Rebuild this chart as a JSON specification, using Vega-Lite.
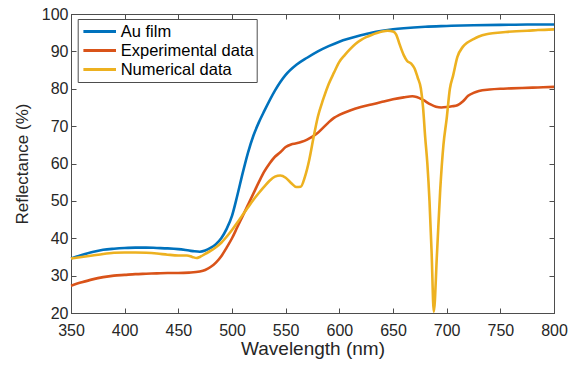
{
  "$schema": "https://vega.github.io/schema/vega-lite/v6.json",
  "width": 483,
  "height": 299,
  "autosize": {"type": "none"},
  "padding": {"left": 71, "top": 14, "right": 15, "bottom": 54},
  "config": {
    "font": "Liberation Sans",
    "view": {"stroke": "#4d4d4d", "strokeWidth": 1},
    "axis": {"grid": false, "domainColor": "#4d4d4d", "tickColor": "#4d4d4d", "labelColor": "#262626", "titleColor": "#262626", "labelFontSize": 16, "titleFontWeight": "normal", "tickSize": -5, "labelFlush": false, "labelOverlap": false}
  },
  "data": {"values": [
    {"s":"Au film","x":350,"y":34.6},{"s":"Au film","x":360,"y":35.5},{"s":"Au film","x":370,"y":36.3},{"s":"Au film","x":380,"y":36.9},{"s":"Au film","x":390,"y":37.2},{"s":"Au film","x":400,"y":37.4},{"s":"Au film","x":410,"y":37.5},{"s":"Au film","x":420,"y":37.5},{"s":"Au film","x":430,"y":37.4},{"s":"Au film","x":440,"y":37.3},{"s":"Au film","x":450,"y":37.1},{"s":"Au film","x":460,"y":36.7},{"s":"Au film","x":465,"y":36.5},{"s":"Au film","x":470,"y":36.4},{"s":"Au film","x":475,"y":36.7},{"s":"Au film","x":480,"y":37.4},{"s":"Au film","x":485,"y":38.4},{"s":"Au film","x":490,"y":40},{"s":"Au film","x":495,"y":42.5},{"s":"Au film","x":500,"y":46},{"s":"Au film","x":505,"y":51.5},{"s":"Au film","x":510,"y":57.5},{"s":"Au film","x":515,"y":63},{"s":"Au film","x":520,"y":67.5},{"s":"Au film","x":525,"y":71},{"s":"Au film","x":530,"y":74},{"s":"Au film","x":540,"y":79.5},{"s":"Au film","x":550,"y":83.7},{"s":"Au film","x":560,"y":86.4},{"s":"Au film","x":570,"y":88.3},{"s":"Au film","x":580,"y":90},{"s":"Au film","x":590,"y":91.4},{"s":"Au film","x":600,"y":92.6},{"s":"Au film","x":610,"y":93.5},{"s":"Au film","x":620,"y":94.3},{"s":"Au film","x":630,"y":95},{"s":"Au film","x":640,"y":95.5},{"s":"Au film","x":650,"y":95.9},{"s":"Au film","x":660,"y":96.2},{"s":"Au film","x":680,"y":96.6},{"s":"Au film","x":700,"y":96.8},{"s":"Au film","x":725,"y":97},{"s":"Au film","x":750,"y":97.1},{"s":"Au film","x":775,"y":97.2},{"s":"Au film","x":800,"y":97.2},
    {"s":"Experimental data","x":350,"y":27.3},{"s":"Experimental data","x":360,"y":28.2},{"s":"Experimental data","x":370,"y":29},{"s":"Experimental data","x":380,"y":29.6},{"s":"Experimental data","x":390,"y":30},{"s":"Experimental data","x":400,"y":30.2},{"s":"Experimental data","x":410,"y":30.4},{"s":"Experimental data","x":420,"y":30.5},{"s":"Experimental data","x":430,"y":30.6},{"s":"Experimental data","x":440,"y":30.7},{"s":"Experimental data","x":450,"y":30.7},{"s":"Experimental data","x":460,"y":30.8},{"s":"Experimental data","x":470,"y":31.1},{"s":"Experimental data","x":475,"y":31.5},{"s":"Experimental data","x":480,"y":32.3},{"s":"Experimental data","x":485,"y":33.5},{"s":"Experimental data","x":490,"y":35.2},{"s":"Experimental data","x":495,"y":37.5},{"s":"Experimental data","x":500,"y":40},{"s":"Experimental data","x":505,"y":43},{"s":"Experimental data","x":510,"y":46},{"s":"Experimental data","x":515,"y":49},{"s":"Experimental data","x":520,"y":52},{"s":"Experimental data","x":525,"y":55},{"s":"Experimental data","x":530,"y":57.8},{"s":"Experimental data","x":535,"y":60},{"s":"Experimental data","x":540,"y":61.8},{"s":"Experimental data","x":545,"y":63},{"s":"Experimental data","x":550,"y":64.4},{"s":"Experimental data","x":555,"y":65.1},{"s":"Experimental data","x":560,"y":65.4},{"s":"Experimental data","x":565,"y":65.8},{"s":"Experimental data","x":570,"y":66.4},{"s":"Experimental data","x":575,"y":67.2},{"s":"Experimental data","x":580,"y":68.2},{"s":"Experimental data","x":585,"y":69.6},{"s":"Experimental data","x":590,"y":71},{"s":"Experimental data","x":595,"y":72.2},{"s":"Experimental data","x":600,"y":73},{"s":"Experimental data","x":610,"y":74.2},{"s":"Experimental data","x":620,"y":75.1},{"s":"Experimental data","x":630,"y":75.8},{"s":"Experimental data","x":640,"y":76.5},{"s":"Experimental data","x":650,"y":77.2},{"s":"Experimental data","x":660,"y":77.7},{"s":"Experimental data","x":668,"y":78},{"s":"Experimental data","x":672,"y":77.8},{"s":"Experimental data","x":678,"y":77},{"s":"Experimental data","x":685,"y":75.8},{"s":"Experimental data","x":690,"y":75.2},{"s":"Experimental data","x":695,"y":75},{"s":"Experimental data","x":700,"y":75.1},{"s":"Experimental data","x":705,"y":75.3},{"s":"Experimental data","x":710,"y":75.6},{"s":"Experimental data","x":715,"y":76.6},{"s":"Experimental data","x":720,"y":78.1},{"s":"Experimental data","x":725,"y":78.9},{"s":"Experimental data","x":730,"y":79.4},{"s":"Experimental data","x":740,"y":79.8},{"s":"Experimental data","x":750,"y":80},{"s":"Experimental data","x":760,"y":80.1},{"s":"Experimental data","x":770,"y":80.2},{"s":"Experimental data","x":780,"y":80.3},{"s":"Experimental data","x":790,"y":80.4},{"s":"Experimental data","x":800,"y":80.5},
    {"s":"Numerical data","x":350,"y":34.6},{"s":"Numerical data","x":360,"y":35},{"s":"Numerical data","x":370,"y":35.4},{"s":"Numerical data","x":380,"y":35.8},{"s":"Numerical data","x":390,"y":36.1},{"s":"Numerical data","x":400,"y":36.2},{"s":"Numerical data","x":410,"y":36.2},{"s":"Numerical data","x":420,"y":36.1},{"s":"Numerical data","x":430,"y":35.9},{"s":"Numerical data","x":440,"y":35.6},{"s":"Numerical data","x":450,"y":35.4},{"s":"Numerical data","x":458,"y":35.4},{"s":"Numerical data","x":463,"y":35},{"s":"Numerical data","x":467,"y":34.7},{"s":"Numerical data","x":470,"y":35},{"s":"Numerical data","x":475,"y":35.8},{"s":"Numerical data","x":480,"y":36.6},{"s":"Numerical data","x":485,"y":37.6},{"s":"Numerical data","x":490,"y":38.8},{"s":"Numerical data","x":495,"y":40.4},{"s":"Numerical data","x":500,"y":42.2},{"s":"Numerical data","x":505,"y":44.2},{"s":"Numerical data","x":510,"y":46.3},{"s":"Numerical data","x":515,"y":48.3},{"s":"Numerical data","x":520,"y":50.3},{"s":"Numerical data","x":525,"y":52.1},{"s":"Numerical data","x":530,"y":53.8},{"s":"Numerical data","x":535,"y":55.4},{"s":"Numerical data","x":540,"y":56.5},{"s":"Numerical data","x":545,"y":56.8},{"s":"Numerical data","x":550,"y":56.2},{"s":"Numerical data","x":555,"y":54.8},{"s":"Numerical data","x":560,"y":53.7},{"s":"Numerical data","x":564,"y":53.8},{"s":"Numerical data","x":568,"y":56.5},{"s":"Numerical data","x":572,"y":61},{"s":"Numerical data","x":576,"y":67},{"s":"Numerical data","x":580,"y":72.5},{"s":"Numerical data","x":585,"y":77.2},{"s":"Numerical data","x":590,"y":81.2},{"s":"Numerical data","x":595,"y":84.3},{"s":"Numerical data","x":600,"y":87.2},{"s":"Numerical data","x":605,"y":89},{"s":"Numerical data","x":610,"y":90.6},{"s":"Numerical data","x":615,"y":92},{"s":"Numerical data","x":620,"y":93},{"s":"Numerical data","x":625,"y":93.8},{"s":"Numerical data","x":630,"y":94.4},{"s":"Numerical data","x":635,"y":94.9},{"s":"Numerical data","x":640,"y":95.3},{"s":"Numerical data","x":645,"y":95.5},{"s":"Numerical data","x":650,"y":95.3},{"s":"Numerical data","x":653,"y":94.5},{"s":"Numerical data","x":656,"y":92},{"s":"Numerical data","x":660,"y":89},{"s":"Numerical data","x":663,"y":87.5},{"s":"Numerical data","x":667,"y":86.7},{"s":"Numerical data","x":670,"y":85.5},{"s":"Numerical data","x":673,"y":83},{"s":"Numerical data","x":676,"y":80},{"s":"Numerical data","x":678,"y":75},{"s":"Numerical data","x":680,"y":67},{"s":"Numerical data","x":682,"y":60},{"s":"Numerical data","x":684,"y":50},{"s":"Numerical data","x":686,"y":36},{"s":"Numerical data","x":688,"y":20.3},{"s":"Numerical data","x":691,"y":36},{"s":"Numerical data","x":694,"y":53},{"s":"Numerical data","x":697,"y":65},{"s":"Numerical data","x":700,"y":72},{"s":"Numerical data","x":703,"y":80},{"s":"Numerical data","x":706,"y":83.5},{"s":"Numerical data","x":710,"y":88.5},{"s":"Numerical data","x":715,"y":91.2},{"s":"Numerical data","x":719,"y":92.3},{"s":"Numerical data","x":725,"y":93.3},{"s":"Numerical data","x":730,"y":94},{"s":"Numerical data","x":737,"y":94.6},{"s":"Numerical data","x":745,"y":94.9},{"s":"Numerical data","x":755,"y":95.2},{"s":"Numerical data","x":765,"y":95.4},{"s":"Numerical data","x":775,"y":95.5},{"s":"Numerical data","x":785,"y":95.7},{"s":"Numerical data","x":800,"y":95.9}
  ]},
  "layer": [
    {
      "mark": {"type": "line", "strokeWidth": 2.6, "interpolate": "monotone"},
      "encoding": {
        "x": {"field": "x", "type": "quantitative", "scale": {"domain": [350, 800], "nice": false},
              "axis": {"orient": "bottom", "values": [350,400,450,500,550,600,650,700,750,800], "title": "Wavelength (nm)", "titleFontSize": 19, "labelPadding": 14, "titlePadding": 1}},
        "y": {"field": "y", "type": "quantitative", "scale": {"domain": [20, 100], "nice": false},
              "axis": {"orient": "left", "values": [20,30,40,50,60,70,80,90,100], "title": "Reflectance (%)", "titleFontSize": 17, "labelPadding": 8, "titlePadding": 10}},
        "color": {"field": "s", "type": "nominal",
                  "scale": {"domain": ["Au film", "Experimental data", "Numerical data"], "range": ["#0072BD", "#D95319", "#EDB120"]},
                  "legend": {"orient": "none", "legendX": 6.7, "legendY": 5, "title": null, "strokeColor": "#4d4d4d", "fillColor": "white", "padding": 3, "symbolType": "stroke", "symbolSize": 1063, "symbolOffset": 1, "symbolStrokeWidth": 3, "clipHeight": 19, "rowPadding": 0, "labelFontSize": 16.5, "labelColor": "#000000", "labelOffset": 3}}
      }
    },
    {
      "mark": {"type": "line", "opacity": 0},
      "encoding": {
        "x": {"field": "x", "type": "quantitative", "scale": {"domain": [350, 800], "nice": false},
              "axis": {"orient": "top", "values": [350,400,450,500,550,600,650,700,750,800], "labels": false, "title": null}},
        "y": {"field": "y", "type": "quantitative", "scale": {"domain": [20, 100], "nice": false},
              "axis": {"orient": "right", "values": [20,30,40,50,60,70,80,90,100], "labels": false, "title": null}},
        "detail": {"field": "s"}
      }
    }
  ],
  "resolve": {"axis": {"x": "independent", "y": "independent"}}
}
